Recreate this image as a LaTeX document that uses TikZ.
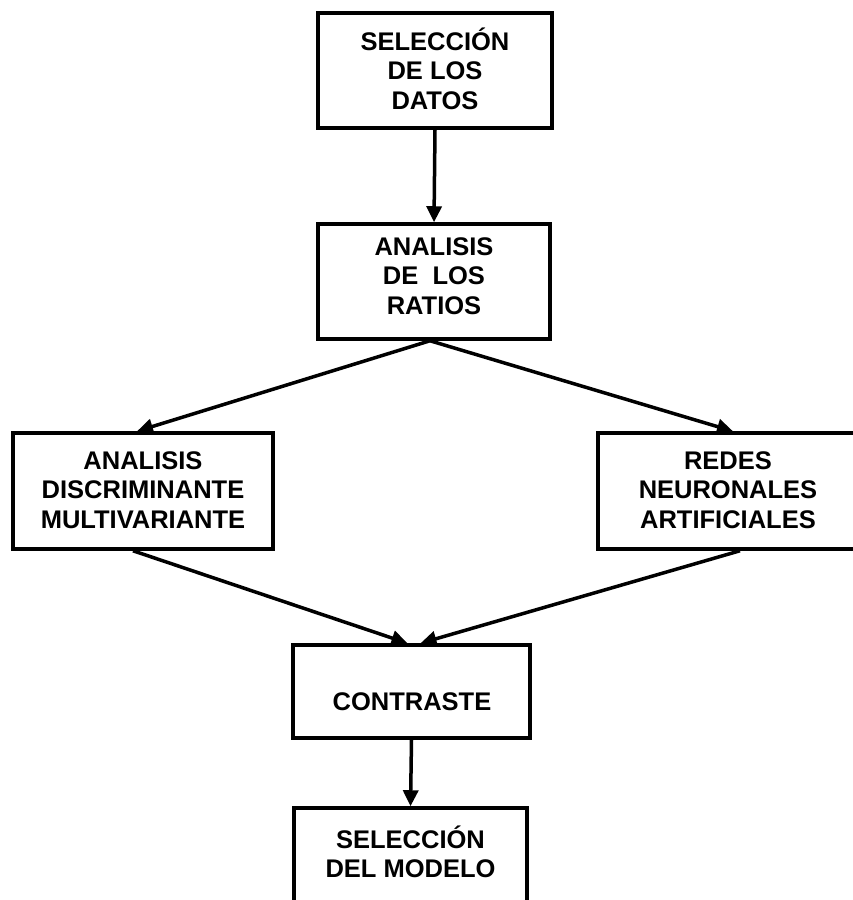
\documentclass[tikz,border=0pt]{standalone}
\usepackage{fontspec}
\setmainfont{Liberation Sans}
\usetikzlibrary{arrows.meta}
\begin{document}
\begin{tikzpicture}[x=1pt,y=-1pt,
  box/.style={draw, line width=3.5pt, rectangle, inner sep=0pt},
  lbl/.style={align=center, inner sep=0pt, font=\fontsize{25.5}{29.5}\selectfont\bfseries},
  conn/.style={line width=3.5pt},
  arr/.style={conn, -{Triangle[length=16pt,width=15pt]}}]
\useasboundingbox (0,0) rectangle (853,900);
\clip (0,0) rectangle (853,900);
% boxes
\node[box, minimum width=234pt, minimum height=115pt] (b1) at (435,70.5) {};
\node[box, minimum width=232pt, minimum height=115pt] (b2) at (434,281.5) {};
\node[box, minimum width=260pt, minimum height=116pt] (b3) at (143,491) {};
\node[box, minimum width=260pt, minimum height=116pt] (b4) at (728,491) {};
\node[box, minimum width=237pt, minimum height=93pt] (b5) at (411.5,691.5) {};
\node[box, minimum width=233pt, minimum height=122pt] (b6) at (410.5,869) {};
% labels
\node[lbl] (t1) at (435,68.5) {SELECCIÓN\\DE LOS\\DATOS};
\node[lbl] (t2) at (434,276) {ANALISIS\\DE~ LOS\\RATIOS};
\node[lbl] (t3) at (143,490) {ANALISIS\\DISCRIMINANTE\\MULTIVARIANTE};
\node[lbl] (t4) at (728,490) {REDES\\NEURONALES\\ARTIFICIALES};
\node[lbl] (t5) at (412,702) {CONTRASTE};
\node[lbl] (t6) at (410.5,852) {SELECCIÓN\\DEL MODELO};
% connectors
\draw[arr] (b1.south) -- (b2.north);
\draw[arr] ([xshift=-4pt]b2.south) -- ([xshift=-6pt]b3.north);
\draw[arr] ([xshift=-4pt]b2.south) -- ([xshift=5pt]b4.north);
\draw[arr] ([xshift=-10pt]b3.south) -- ([xshift=-4pt]b5.north);
\draw[arr] ([xshift=12pt]b4.south) -- ([xshift=9pt]b5.north);
\draw[arr] (b5.south) -- (b6.north);
\end{tikzpicture}
\end{document}
